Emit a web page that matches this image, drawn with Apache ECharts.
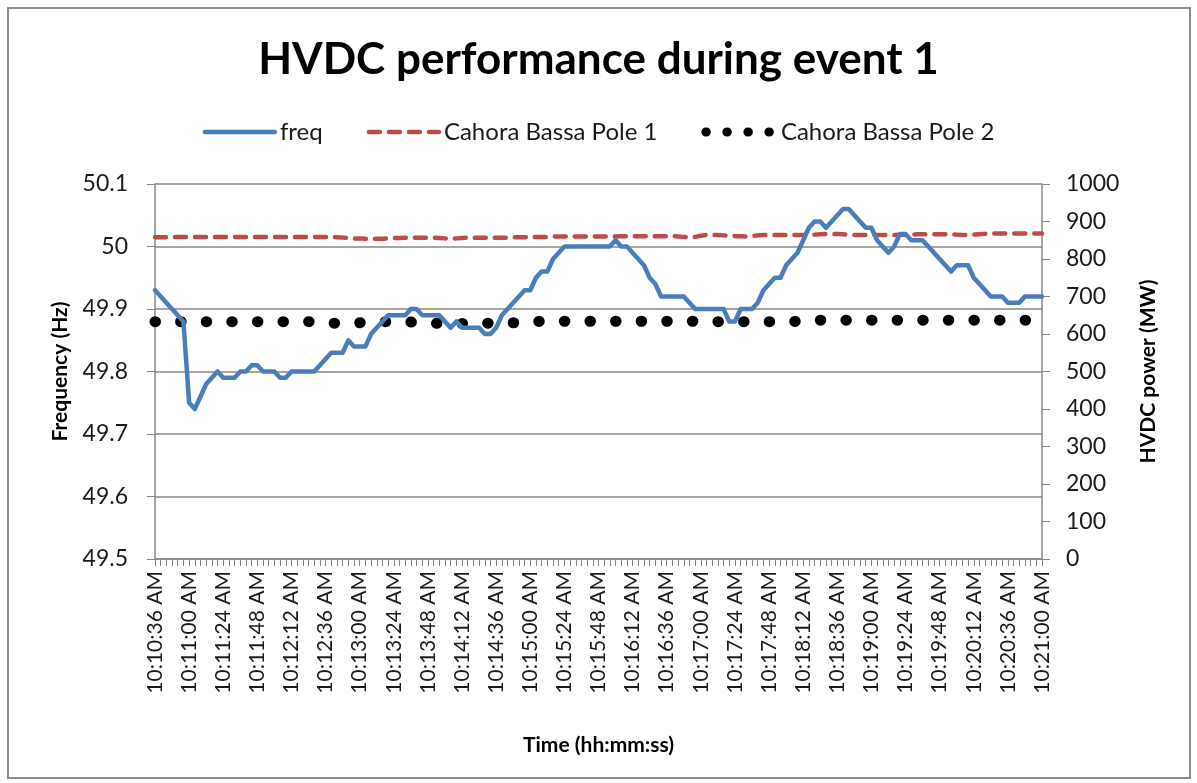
<!DOCTYPE html>
<html>
<head>
<meta charset="utf-8">
<title>HVDC performance during event 1</title>
<script src="https://cdn.jsdelivr.net/npm/echarts@6/dist/echarts.min.js"></script>
<style>
  html, body { margin: 0; padding: 0; background: #fff; }
  #chart { width: 1197px; height: 783px; }
</style>
</head>
<body>
<div id="chart"></div>
<script>
// samples every 4 s, 10:10:36 AM .. 10:21:00 AM
var startSec = 10 * 3600 + 10 * 60 + 36;
var stepSec = 4;
var sampleCount = 157;

// frequency (Hz), left axis
var freq = [
  49.93, 49.92, 49.91, 49.90, 49.89, 49.88, 49.75, 49.74, 49.76, 49.78,
  49.79, 49.80, 49.79, 49.79, 49.79, 49.80, 49.80, 49.81, 49.81, 49.80,
  49.80, 49.80, 49.79, 49.79, 49.80, 49.80, 49.80, 49.80, 49.80, 49.81,
  49.82, 49.83, 49.83, 49.83, 49.85, 49.84, 49.84, 49.84, 49.86, 49.87,
  49.88, 49.89, 49.89, 49.89, 49.89, 49.90, 49.90, 49.89, 49.89, 49.89,
  49.89, 49.88, 49.87, 49.88, 49.87, 49.87, 49.87, 49.87, 49.86, 49.86,
  49.87, 49.89, 49.90, 49.91, 49.92, 49.93, 49.93, 49.95, 49.96, 49.96,
  49.98, 49.99, 50.00, 50.00, 50.00, 50.00, 50.00, 50.00, 50.00, 50.00,
  50.00, 50.01, 50.00, 50.00, 49.99, 49.98, 49.97, 49.95, 49.94, 49.92,
  49.92, 49.92, 49.92, 49.92, 49.91, 49.90, 49.90, 49.90, 49.90, 49.90,
  49.90, 49.88, 49.88, 49.90, 49.90, 49.90, 49.91, 49.93, 49.94, 49.95,
  49.95, 49.97, 49.98, 49.99, 50.01, 50.03, 50.04, 50.04, 50.03, 50.04,
  50.05, 50.06, 50.06, 50.05, 50.04, 50.03, 50.03, 50.01, 50.00, 49.99,
  50.00, 50.02, 50.02, 50.01, 50.01, 50.01, 50.00, 49.99, 49.98, 49.97,
  49.96, 49.97, 49.97, 49.97, 49.95, 49.94, 49.93, 49.92, 49.92, 49.92,
  49.91, 49.91, 49.91, 49.92, 49.92, 49.92, 49.92
];

// HVDC power (MW), right axis
var pole1 = [
  858, 858, 858, 859, 859, 859, 859, 859, 859, 859,
  859, 859, 859, 859, 859, 859, 859, 859, 859, 859,
  859, 859, 859, 859, 859, 859, 859, 859, 859, 859,
  859, 859, 858, 857, 856, 855, 855, 854, 854, 854,
  854, 855, 856, 856, 857, 857, 857, 857, 857, 857,
  856, 855, 854, 855, 856, 857, 857, 857, 857, 857,
  857, 857, 857, 858, 858, 858, 859, 859, 859, 859,
  860, 860, 860, 860, 860, 860, 860, 860, 860, 860,
  860, 860, 861, 861, 861, 861, 861, 861, 861, 861,
  861, 861, 860, 859, 858, 859, 862, 864, 864, 864,
  863, 862, 861, 861, 860, 861, 863, 864, 864, 864,
  864, 864, 864, 864, 864, 864, 865, 866, 867, 867,
  867, 866, 865, 864, 864, 864, 864, 864, 864, 864,
  864, 865, 865, 865, 866, 866, 866, 866, 866, 866,
  866, 865, 864, 864, 865, 866, 867, 868, 868, 868,
  868, 868, 868, 868, 868, 868, 868
];

var pole2 = [
  633, 633, 633, 633, 633, 633, 633, 633, 633, 633,
  633, 633, 633, 633, 633, 633, 633, 633, 633, 633,
  633, 633, 633, 633, 633, 633, 633, 633, 632, 631,
  630, 629, 629, 629, 629, 629, 630, 631, 632, 633,
  633, 633, 633, 633, 633, 632, 631, 630, 629, 629,
  628, 628, 628, 628, 628, 628, 628, 628, 629, 629,
  630, 630, 630, 630, 630, 631, 632, 633, 634, 634,
  634, 634, 634, 634, 634, 634, 634, 634, 634, 634,
  634, 634, 634, 634, 634, 634, 634, 634, 634, 634,
  634, 634, 634, 634, 634, 634, 634, 634, 633, 633,
  633, 633, 633, 633, 633, 633, 633, 633, 633, 633,
  633, 633, 633, 634, 635, 636, 637, 637, 637, 637,
  637, 637, 637, 637, 637, 637, 637, 637, 637, 637,
  637, 637, 637, 637, 637, 637, 637, 637, 637, 637,
  637, 637, 637, 637, 637, 637, 637, 637, 637, 637,
  637, 637, 637, 637, 637, 637, 637
];

function fmtTime(sec) {
  var h = Math.floor(sec / 3600);
  var m = Math.floor((sec % 3600) / 60);
  var s = sec % 60;
  var ap = h >= 12 ? "PM" : "AM";
  var hh = h % 12 === 0 ? 12 : h % 12;
  return hh + ":" + (m < 10 ? "0" : "") + m + ":" + (s < 10 ? "0" : "") + s + " " + ap;
}

var times = [];
for (var i = 0; i < sampleCount; i++) {
  times.push(fmtTime(startSec + i * stepSec));
}

var font = "Lato";
var gray = "#878787";
var textColor = "#1a1a1a";

var freqLine = { color: "#4a7ebb", width: 4.5, type: "solid", join: "round", cap: "round" };
var pole1Line = { color: "#be4b48", width: 4.5, type: [11, 9], cap: "round", join: "round" };
var pole2Line = { color: "#000", width: 11, type: [0.5, 25.1], cap: "round", join: "round" };

var chart = echarts.init(document.getElementById("chart"));
chart.setOption({
  animation: false,
  backgroundColor: "#fff",
  title: {
    text: "HVDC performance during event 1",
    left: "center",
    top: 33,
    textStyle: { fontFamily: font, fontSize: 44, fontWeight: "bold", color: "#000" }
  },
  legend: {
    top: 115,
    left: "center",
    itemWidth: 70,
    itemHeight: 14,
    itemGap: 44,
    textStyle: { fontFamily: font, fontSize: 24, color: textColor },
    itemStyle: { opacity: 0 },
    data: [
      { name: "freq", lineStyle: freqLine },
      { name: "Cahora Bassa Pole 1", lineStyle: pole1Line },
      { name: "Cahora Bassa Pole 2", lineStyle: { color: "#000", width: 9, type: [0.5, 20.5], cap: "round" } }
    ]
  },
  graphic: [
    {
      type: "rect",
      shape: { x: 8, y: 8, width: 1182, height: 770 },
      style: { fill: null, stroke: "#8c8c8c", lineWidth: 2 },
      silent: true
    }
  ],
  grid: { left: 155, right: 155, top: 184, bottom: 224 },
  xAxis: {
    type: "category",
    data: times,
    boundaryGap: false,
    name: "Time (hh:mm:ss)",
    nameLocation: "middle",
    nameGap: 176,
    nameTextStyle: { fontFamily: font, fontSize: 21, fontWeight: "bold", color: "#000" },
    axisLine: { lineStyle: { color: gray, width: 1.5 } },
    axisTick: { interval: 0, length: 7, lineStyle: { color: gray } },
    axisLabel: {
      interval: 5,
      rotate: 90,
      margin: 12,
      fontFamily: font,
      fontSize: 21,
      color: textColor
    },
    splitLine: { show: false }
  },
  yAxis: [
    {
      type: "value",
      min: 49.5,
      max: 50.1,
      interval: 0.1,
      name: "Frequency (Hz)",
      nameLocation: "middle",
      nameRotate: 90,
      nameGap: 84,
      nameTextStyle: { fontFamily: font, fontSize: 21, fontWeight: "bold", color: "#000" },
      axisLine: { show: true, lineStyle: { color: gray, width: 1.5 } },
      axisTick: { show: true, length: 8, lineStyle: { color: gray } },
      axisLabel: { margin: 27, fontFamily: font, fontSize: 23, color: textColor },
      splitLine: { show: true, lineStyle: { color: gray, width: 1.5 } }
    },
    {
      type: "value",
      min: 0,
      max: 1000,
      interval: 100,
      name: "HVDC power (MW)",
      nameLocation: "middle",
      nameRotate: 90,
      nameGap: 96,
      nameTextStyle: { fontFamily: font, fontSize: 21, fontWeight: "bold", color: "#000" },
      axisLine: { show: true, lineStyle: { color: gray, width: 1.5 } },
      axisTick: { show: true, length: 8, lineStyle: { color: gray } },
      axisLabel: {
        margin: 24, fontFamily: font, fontSize: 23, color: textColor,
        formatter: function (v) { return String(v); }
      },
      splitLine: { show: false }
    }
  ],
  series: [
    {
      name: "freq",
      type: "line",
      yAxisIndex: 0,
      data: freq,
      symbol: "none",
      lineStyle: freqLine,
      itemStyle: { color: "#4a7ebb" },
      z: 3
    },
    {
      name: "Cahora Bassa Pole 1",
      type: "line",
      yAxisIndex: 1,
      data: pole1,
      symbol: "none",
      lineStyle: pole1Line,
      itemStyle: { color: "#be4b48" },
      z: 2
    },
    {
      name: "Cahora Bassa Pole 2",
      type: "line",
      yAxisIndex: 1,
      data: pole2,
      symbol: "none",
      lineStyle: pole2Line,
      itemStyle: { color: "#000" },
      z: 2
    }
  ]
});
</script>
</body>
</html>
